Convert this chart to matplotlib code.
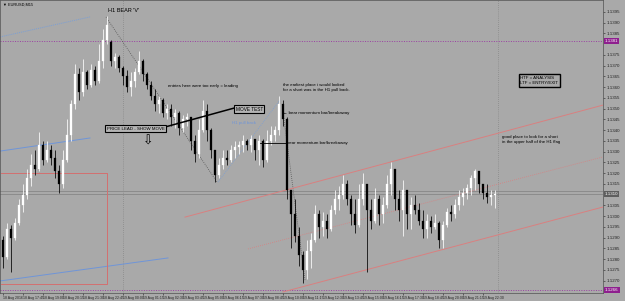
import matplotlib
matplotlib.use("Agg")
import matplotlib.pyplot as plt
import numpy as np

# EURUSD M15 candles (price)
opens = [1.1289, 1.1281, 1.1294, 1.1290, 1.1297, 1.1305, 1.1310, 1.1318, 1.1324, 1.1322,
         1.1333, 1.1326, 1.1331, 1.1327, 1.1321, 1.1315, 1.1326, 1.1338, 1.1352, 1.1366,
         1.1358, 1.1367, 1.1361, 1.1368, 1.1363, 1.1372, 1.1382, 1.1381, 1.1372, 1.1374,
         1.1369, 1.1365, 1.1360, 1.1363, 1.1367, 1.1372, 1.1366, 1.1361, 1.1356, 1.1352,
         1.1354, 1.1348, 1.1350, 1.1346, 1.1348, 1.1341, 1.1345, 1.1346, 1.1335, 1.1329,
         1.1340, 1.1349, 1.1340, 1.1331, 1.1319, 1.1324, 1.1327, 1.1326, 1.1331, 1.1332,
         1.1333, 1.1335, 1.1333, 1.1336, 1.1331, 1.1335, 1.1326, 1.1335, 1.1338, 1.1340,
         1.1352, 1.1345, 1.1312, 1.1301, 1.1291, 1.1282, 1.1275, 1.1284, 1.1289, 1.1301,
         1.1295, 1.1298, 1.1294, 1.1303, 1.1308, 1.1310, 1.1315, 1.1308, 1.1301, 1.1296,
         1.1308, 1.1315, 1.1303, 1.1298, 1.1308, 1.1301, 1.1305, 1.1315, 1.1322, 1.1308,
         1.1303, 1.1312, 1.1301, 1.1305, 1.1303, 1.1298, 1.1294, 1.1298, 1.1295, 1.1297,
         1.1289, 1.1296, 1.1302, 1.1301, 1.1305, 1.1309, 1.1311, 1.1313, 1.1318, 1.1321,
         1.1315, 1.1311, 1.1309, 1.1310]
highs = [1.1291, 1.1297, 1.1296, 1.1299, 1.1308, 1.1315, 1.1322, 1.1329, 1.1331, 1.1339,
         1.1335, 1.1335, 1.1333, 1.1331, 1.1324, 1.1331, 1.1345, 1.1354, 1.1371, 1.1369,
         1.1373, 1.1368, 1.1371, 1.1370, 1.1380, 1.1387, 1.1393, 1.1382, 1.1376, 1.1375,
         1.1370, 1.1368, 1.1367, 1.1369, 1.1377, 1.1373, 1.1367, 1.1363, 1.1359, 1.1356,
         1.1355, 1.1352, 1.1352, 1.1350, 1.1349, 1.1347, 1.1348, 1.1346, 1.1338, 1.1345,
         1.1354, 1.1352, 1.1341, 1.1331, 1.1327, 1.1331, 1.1331, 1.1333, 1.1335, 1.1335,
         1.1338, 1.1336, 1.1338, 1.1336, 1.1338, 1.1336, 1.1340, 1.1342, 1.1342, 1.1356,
         1.1354, 1.1346, 1.1312, 1.1308, 1.1295, 1.1284, 1.1289, 1.1292, 1.1305, 1.1303,
         1.1302, 1.1301, 1.1305, 1.1312, 1.1314, 1.1319, 1.1317, 1.1310, 1.1308, 1.1315,
         1.1320, 1.1315, 1.1308, 1.1313, 1.1310, 1.1309, 1.1319, 1.1325, 1.1322, 1.1312,
         1.1317, 1.1312, 1.1309, 1.1310, 1.1306, 1.1303, 1.1301, 1.1300, 1.1301, 1.1298,
         1.1298, 1.1304, 1.1305, 1.1308, 1.1312, 1.1313, 1.1315, 1.1319, 1.1322, 1.1321,
         1.1315, 1.1315, 1.1312, 1.1312]
lows = [1.1276, 1.1280, 1.1274, 1.1289, 1.1296, 1.1302, 1.1308, 1.1314, 1.1319, 1.1321,
        1.1324, 1.1325, 1.1324, 1.1318, 1.1311, 1.1313, 1.1325, 1.1335, 1.1350, 1.1354,
        1.1356, 1.1359, 1.1360, 1.1361, 1.1362, 1.1369, 1.1380, 1.1370, 1.1369, 1.1367,
        1.1361, 1.1358, 1.1356, 1.1360, 1.1366, 1.1363, 1.1359, 1.1354, 1.1349, 1.1348,
        1.1346, 1.1345, 1.1342, 1.1341, 1.1338, 1.1339, 1.1342, 1.1331, 1.1325, 1.1327,
        1.1339, 1.1335, 1.1327, 1.1316, 1.1318, 1.1322, 1.1324, 1.1325, 1.1327, 1.1329,
        1.1330, 1.1331, 1.1330, 1.1326, 1.1324, 1.1323, 1.1325, 1.1333, 1.1335, 1.1338,
        1.1342, 1.1308, 1.1285, 1.1288, 1.1277, 1.1269, 1.1271, 1.1276, 1.1288, 1.1290,
        1.1291, 1.1290, 1.1293, 1.1301, 1.1303, 1.1308, 1.1305, 1.1296, 1.1292, 1.1295,
        1.1305, 1.1274, 1.1294, 1.1297, 1.1296, 1.1297, 1.1304, 1.1310, 1.1303, 1.1298,
        1.1291, 1.1294, 1.1294, 1.1301, 1.1296, 1.1290, 1.1290, 1.1292, 1.1294, 1.1285,
        1.1285, 1.1295, 1.1298, 1.1299, 1.1303, 1.1305, 1.1308, 1.1310, 1.1312, 1.1311,
        1.1308, 1.1306, 1.1305, 1.1304]
closes = [1.1281, 1.1294, 1.1290, 1.1297, 1.1305, 1.1310, 1.1318, 1.1324, 1.1322, 1.1333,
          1.1326, 1.1331, 1.1327, 1.1321, 1.1315, 1.1326, 1.1338, 1.1352, 1.1366, 1.1358,
          1.1367, 1.1361, 1.1368, 1.1363, 1.1372, 1.1382, 1.1389, 1.1372, 1.1374, 1.1369,
          1.1365, 1.1360, 1.1363, 1.1367, 1.1372, 1.1366, 1.1361, 1.1356, 1.1352, 1.1354,
          1.1348, 1.1350, 1.1346, 1.1348, 1.1341, 1.1345, 1.1346, 1.1335, 1.1329, 1.1340,
          1.1349, 1.1340, 1.1331, 1.1319, 1.1324, 1.1327, 1.1326, 1.1331, 1.1332, 1.1333,
          1.1335, 1.1333, 1.1336, 1.1331, 1.1335, 1.1326, 1.1335, 1.1338, 1.1340, 1.1352,
          1.1345, 1.1312, 1.1301, 1.1291, 1.1282, 1.1275, 1.1284, 1.1289, 1.1301, 1.1295,
          1.1298, 1.1294, 1.1303, 1.1308, 1.1310, 1.1315, 1.1308, 1.1301, 1.1296, 1.1308,
          1.1315, 1.1303, 1.1298, 1.1308, 1.1301, 1.1305, 1.1315, 1.1322, 1.1308, 1.1303,
          1.1312, 1.1301, 1.1305, 1.1303, 1.1298, 1.1294, 1.1298, 1.1295, 1.1297, 1.1289,
          1.1296, 1.1302, 1.1301, 1.1305, 1.1309, 1.1311, 1.1313, 1.1318, 1.1321, 1.1315,
          1.1311, 1.1309, 1.1310, 1.1310]

price_ticks = [round(1.1395 - 0.0005 * k, 4) for k in range(26)]
time_labels = ["18 Aug 2016", "18 Aug 17:45", "18 Aug 19:00", "18 Aug 20:15", "18 Aug 21:30",
               "18 Aug 22:45", "19 Aug 00:00", "19 Aug 01:15", "19 Aug 02:30", "19 Aug 03:45",
               "19 Aug 05:00", "19 Aug 06:15", "19 Aug 07:30", "19 Aug 08:45", "19 Aug 10:00",
               "19 Aug 11:15", "19 Aug 12:30", "19 Aug 13:45", "19 Aug 15:00", "19 Aug 16:15",
               "19 Aug 17:30", "19 Aug 18:45", "19 Aug 20:00", "19 Aug 21:15", "19 Aug 22:30"]
high_line = 1.13815   # purple level
low_line = 1.12657    # purple level
bid, ask = 1.13103, 1.13117

BG = "#a9a9a9"
plt.rcParams["font.family"] = ["Liberation Sans", "DejaVu Sans"]

fig = plt.figure(figsize=(6.25, 3.01), dpi=100, facecolor=BG)
ax = fig.add_axes([0, 8 / 301, 603 / 625, 293 / 301], facecolor=BG)

o, h, l, c = map(np.asarray, (opens, highs, lows, closes))
x = np.arange(len(c))
up = c >= o
col = np.where(up, "white", "black")
ax.vlines(x, l, h, colors=col, lw=0.55, zorder=3)
ax.bar(x, np.maximum(np.abs(c - o), 0.00003), bottom=np.minimum(o, c), width=0.45,
       color=col, edgecolor=col, lw=0.2, zorder=4)

# horizontal levels
ax.axhline(high_line, color="#9b3fa3", lw=0.7, ls=(0, (1, 1.5)), zorder=2)
ax.axhline(low_line, color="#9b3fa3", lw=0.7, ls=(0, (1, 1.5)), zorder=2)
ax.axhline(bid, color="#8c8c8c", lw=0.7, zorder=2)
ax.axhline(ask, color="#8c8c8c", lw=0.7, zorder=2)
for xv in (30, 123.75):
    ax.axvline(xv, color="#7a7a7a", lw=0.5, ls=(0, (1, 2)), zorder=1)

# drawn objects (bar index, price)
ax.plot([-0.75, 21.75], [1.13834, 1.13927], color="#7a9fd6", lw=0.7, ls=(0, (1, 1)))
ax.plot([-0.75, 21.75], [1.13303, 1.13364], color="#6f95d8", lw=0.7)
ax.plot([-0.75, 41.25], [1.12699, 1.12806], color="#6f95d8", lw=0.7)
ax.plot([25.75, 53.5], [1.13927, 1.13159], color="#555555", lw=0.6, ls=(0, (1, 1.5)))
ax.plot([53.75, 69.25], [1.13159, 1.13541], color="#7a9fd6", lw=0.6, ls=(0, (1, 1.5)))
ax.plot([70, 75.5], [1.13485, 1.12703], color="#555555", lw=0.6, ls=(0, (1, 1.5)))
ax.plot([40.5, 57.75], [1.13415, 1.13503], color="black", lw=1.1, zorder=5)
ax.plot([64.25, 71], [1.13341, 1.13341], color="black", lw=0.6, zorder=5)
ax.plot([-0.5, 26, 26, -0.5], [1.13201, 1.13201, 1.12685, 1.12685], color="#d37070", lw=0.7)
ax.plot([45.5, 150], [1.12996, 1.13517], color="#d98080", lw=0.7)
ax.plot([61.25, 150], [1.12848, 1.13276], color="#d98080", lw=0.6, ls=(0, (1, 1.5)))
ax.plot([70, 150], [1.12648, 1.13043], color="#d98080", lw=0.7)

fs = 3.2
ax.text(26.25, 1.13955, "H1 BEAR 'V'", fontsize=4, va="center", zorder=6)
ax.text(41.25, 1.13606, "entries here were too early = leading", fontsize=fs, va="center")
ax.text(70, 1.13600, "the earliest place i would looked\nfor a short was in the H1 pull back.",
        fontsize=fs, va="center", linespacing=1.3)
ax.text(57.25, 1.13434, "H1 pull back", fontsize=fs, va="center", color="#6f95d8")
ax.text(70.1, 1.13480, "\u2190 bear momentum bar/breakaway", fontsize=fs, va="center")
ax.text(71, 1.13341, "bear momentum bar/breakaway", fontsize=fs, va="center")
box = dict(boxstyle="square,pad=0.3", fc="#b4b4b4", ec="black", lw=0.8)
ax.text(61.6, 1.13498, "MOVE TEST", fontsize=3.4, ha="center", va="center", bbox=box, zorder=6)
ax.text(33.1, 1.13408, "PRICE LEAD - SHOW MOVE", fontsize=3.2, ha="center", va="center",
        bbox=box, zorder=6)
ax.text(36.4, 1.13351, "\u21e9", fontsize=9, ha="center", va="center", family="DejaVu Sans")
ax.text(129.3, 1.13631, "HTF = ANALYSIS\nLTF = ENTRY/EXIT", fontsize=fs, va="center",
        linespacing=1.5, bbox=dict(boxstyle="square,pad=0.35", fc="none", ec="black", lw=1.0))
ax.text(124.75, 1.13359, "good place to look for a short\nin the upper half of the H1 flag",
        fontsize=fs, va="center", linespacing=1.3)
fig.text(3 / 625, 1 - 5 / 301, "\u25bc EURUSD,M15", fontsize=2.8, va="center")

ax.set_xlim(-0.75, 150)
ax.set_ylim(1.126430, 1.140058)
ax.yaxis.tick_right()
tags = (high_line, low_line, bid)
shown = [p for p in price_ticks if min(abs(p - t) for t in tags) > 0.00025]
ax.set_yticks(shown)
ax.set_yticklabels([f"{p:.4f}" for p in shown])
ax.set_xticks(np.arange(len(time_labels)) * 5)
ax.set_xticklabels(time_labels)
ax.tick_params(axis="y", labelsize=3.2, length=1.5, width=0.4, pad=1, colors="#222222")
ax.tick_params(axis="x", labelsize=2.5, length=1.5, width=0.4, pad=0.5, colors="#222222")
for lbl in ax.get_xticklabels():
    lbl.set_horizontalalignment("left")
for s in ax.spines.values():
    s.set_color("#505050")
    s.set_linewidth(0.5)

# price tags on the axis
for val, fc in ((high_line, "#8e1f8e"), (low_line, "#8e1f8e"), (bid, "#5e5e5e")):
    ax.text(1.003, val, f"{val:.4f}", transform=ax.get_yaxis_transform(), fontsize=3.2,
            color="white", va="center", ha="left", clip_on=False,
            bbox=dict(boxstyle="square,pad=0.25", fc=fc, ec="none"))

fig.savefig("out.png", dpi=100, facecolor=BG)
